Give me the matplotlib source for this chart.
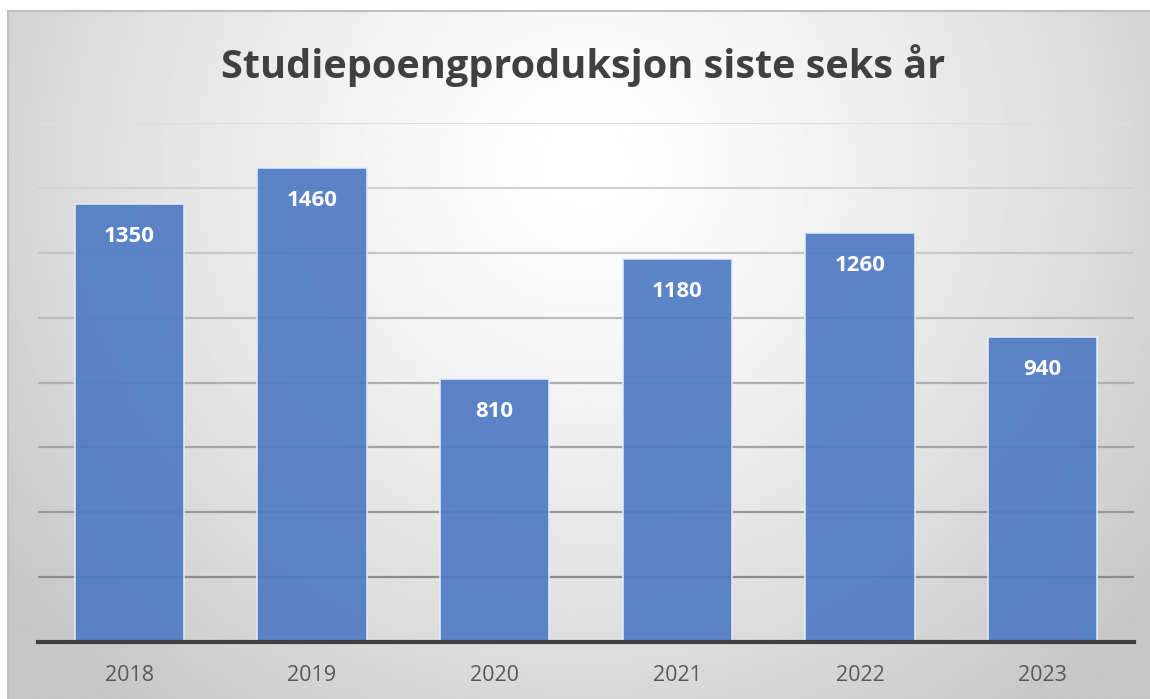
import numpy as np
import matplotlib.pyplot as plt

years = ['2018', '2019', '2020', '2021', '2022', '2023']
poeng = [1350, 1460, 810, 1180, 1260, 940]

W, H = 1150, 699
fig = plt.figure(figsize=(W / 100, H / 100), dpi=100)
fig.patch.set_facecolor('white')

# bakgrunn med radial gradient
bg = fig.add_axes([8 / W, -0.01, 1.01 - 8 / W, (H - 11) / H + 0.01])
gx, gy = np.meshgrid(np.linspace(0, 1, 400), np.linspace(0, 1, 300))
r = np.sqrt(((gx - 0.5) / 0.62) ** 2 + ((gy - 0.22) / 1.0) ** 2)
val = 1.0 - 0.22 * np.clip(r, 0, 1) ** 1.4
bg.imshow(val, cmap='gray', vmin=0, vmax=1, aspect='auto', extent=[0, 1, 1, 0])
bg.set_xticks([])
bg.set_yticks([])
for s in bg.spines.values():
    s.set_color('#bfbfbf')
    s.set_linewidth(1.5)
bg.spines['right'].set_visible(False)
bg.spines['bottom'].set_visible(False)

ax = fig.add_axes([38 / W, (H - 642) / H, (1134 - 38) / W, (642 - 123) / H])
ax.patch.set_alpha(0)
x = np.arange(len(years))
bars = ax.bar(x, poeng, width=0.6, color='#4f7ac4', alpha=0.92,
              edgecolor='#e6eefa', linewidth=1.2, zorder=2)
ax.set_xlim(-0.5, len(years) - 0.5)
ax.set_ylim(0, 1600)
ax.set_yticks(np.arange(200, 1601, 200))
ax.yaxis.grid(True, linewidth=1.6, zorder=1)
glines = ax.get_ygridlines()
for i, gl in enumerate(glines):
    c = 0.55 + 0.32 * i / (len(glines) - 1)
    gl.set_color((c, c, c))
ax.tick_params(axis='y', left=False, labelleft=False)
ax.tick_params(axis='x', bottom=False, labelsize=15.5, labelcolor='#595959', pad=13)
ax.set_xticks(x)
ax.set_xticklabels(years, family='Open Sans')
for s in ['top', 'right', 'left']:
    ax.spines[s].set_visible(False)
ax.spines['bottom'].set_color('#404040')
ax.spines['bottom'].set_linewidth(3)
ax.spines['bottom'].set_zorder(3)

for b, v in zip(bars, poeng):
    ax.annotate(str(v), (b.get_x() + b.get_width() / 2, v), xytext=(0, -23),
                textcoords='offset points', ha='center', va='center',
                color='white', fontsize=16, fontweight='bold', family='Open Sans', zorder=4)

fig.text(583 / W, 1 - 66 / H, 'Studiepoengproduksjon siste seks år', ha='center', va='center',
         fontsize=28.5, fontweight='bold', color='#404040', family='Open Sans')

fig.savefig('out.png', dpi=100)
